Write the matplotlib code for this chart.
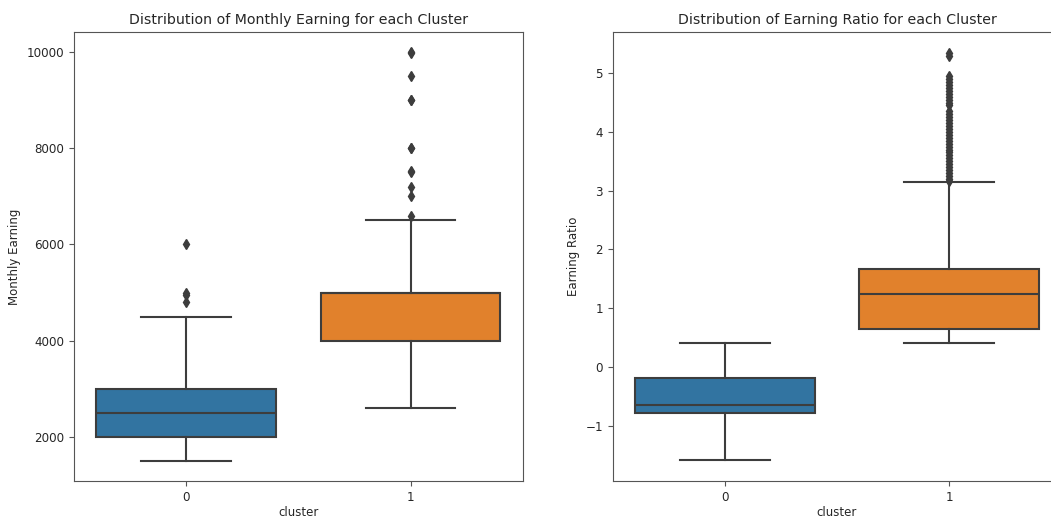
import matplotlib
matplotlib.use("Agg")
import matplotlib.pyplot as plt

clusters = ["0", "1"]

# Monthly Earning box stats per cluster
earn_whislo = [1500, 2600]
earn_q1 = [2000, 4000]
earn_med = [2500, 5000]
earn_q3 = [3000, 5000]
earn_whishi = [4500, 6500]
earn_fliers = [
    [4800, 4950, 5000, 6000],
    [6600, 7000, 7200, 7500, 7520, 8000, 8010, 9000, 9010, 9500, 9990, 10000],
]

# Earning Ratio box stats per cluster
ratio_whislo = [-1.59, 0.41]
ratio_q1 = [-0.78, 0.65]
ratio_med = [-0.64, 1.24]
ratio_q3 = [-0.19, 1.66]
ratio_whishi = [0.40, 3.15]
ratio_fliers = [
    [],
    [3.17, 3.2, 3.25, 3.3, 3.35, 3.4, 3.45, 3.5, 3.55, 3.6, 3.65, 3.7, 3.75,
     3.8, 3.85, 3.9, 3.95, 4.0, 4.05, 4.1, 4.15, 4.2, 4.25, 4.3, 4.35, 4.45,
     4.5, 4.55, 4.6, 4.65, 4.7, 4.75, 4.8, 4.85, 4.9, 4.95, 5.3, 5.34],
]

colors = ["#3274a1", "#e1812c"]
gray = "#3d3d3d"
text_color = "#262626"

W, H = 1051, 520
fig = plt.figure(figsize=(W / 100, H / 100), dpi=100)
ax1 = fig.add_axes([74 / W, (H - 481) / H, 448.7 / W, 449 / H])
ax2 = fig.add_axes([612.7 / W, (H - 481) / H, 448.7 / W, 449 / H])


def draw(ax, lo, q1, med, q3, hi, fl, title, ylabel):
    stats = []
    for i in range(len(clusters)):
        stats.append(dict(whislo=lo[i], q1=q1[i], med=med[i], q3=q3[i],
                          whishi=hi[i], fliers=fl[i], label=clusters[i]))
    res = ax.bxp(stats, positions=range(len(clusters)), widths=0.8,
                 capwidths=0.4, patch_artist=True, showfliers=True,
                 boxprops=dict(edgecolor=gray, linewidth=1.5),
                 medianprops=dict(color=gray, linewidth=1.5),
                 whiskerprops=dict(color=gray, linewidth=1.5),
                 capprops=dict(color=gray, linewidth=1.5),
                 flierprops=dict(marker="d", markerfacecolor=gray,
                                 markeredgecolor=gray, markersize=5.5))
    for patch, c in zip(res["boxes"], colors):
        patch.set_facecolor(c)
    ax.set_xlim(-0.5, 1.5)
    ax.set_title(title, fontsize=10.2, color=text_color)
    ax.set_xlabel("cluster", fontsize=8.5, color=text_color, labelpad=1.5)
    ax.set_ylabel(ylabel, fontsize=8.5, color=text_color)
    ax.tick_params(labelsize=8.6, labelcolor=text_color, color="#555555")
    for s in ax.spines.values():
        s.set_color("#555555")


draw(ax1, earn_whislo, earn_q1, earn_med, earn_q3, earn_whishi, earn_fliers,
     "Distribution of Monthly Earning for each Cluster", "Monthly Earning")
ax1.set_ylim(1083, 10417)
ax1.set_yticks([2000, 4000, 6000, 8000, 10000])

draw(ax2, ratio_whislo, ratio_q1, ratio_med, ratio_q3, ratio_whishi, ratio_fliers,
     "Distribution of Earning Ratio for each Cluster", "Earning Ratio")
ax2.set_ylim(-1.94, 5.70)
ax2.set_yticks([-1, 0, 1, 2, 3, 4, 5])

fig.savefig("out.png", dpi=100)
